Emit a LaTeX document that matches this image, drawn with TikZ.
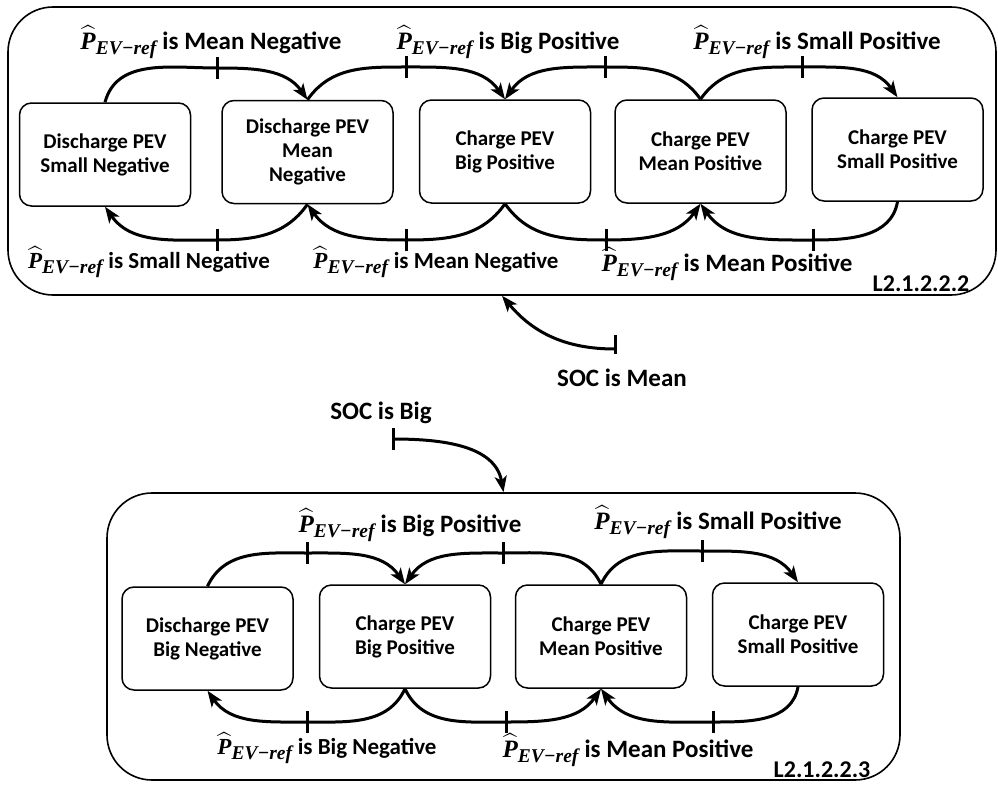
\documentclass[tikz,border=0pt]{standalone}
\usepackage{amsmath}
\usepackage{fontspec}
\setmainfont{Carlito}
\newfontfamily\sbi{Liberation Serif}
\usetikzlibrary{arrows.meta}
\newcommand{\Pev}{\(\widehat{\text{\sbi\bfseries\itshape P}}_{\text{\fontsize{19.5}{22}\selectfont\sbi\bfseries\itshape EV−ref}}\)}
\begin{document}
\begin{tikzpicture}[x=1pt,y=1pt,
  outer/.style={draw, line width=1.6pt, rounded corners=45pt, inner sep=0pt},
  st/.style={draw, line width=1.5pt, rounded corners=12pt, minimum width=171pt, minimum height=103pt, align=center, font=\fontsize{21}{24}\selectfont\bfseries, inner sep=0pt},
  arr/.style={line width=3pt, -{Stealth[length=16pt,width=12pt,inset=4pt]}},
  tk/.style={line width=3pt},
  lb/.style={font=\fontsize{25}{28}\selectfont\bfseries, inner sep=0pt},
  ls/.style={font=\fontsize{23}{26}\selectfont\bfseries, inner sep=0pt},
  nb/.style={font=\fontsize{24}{28}\selectfont\bfseries, inner sep=0pt},
]
\useasboundingbox (0,0) rectangle (998,-784);

% frames
\node[outer, minimum width=988pt, minimum height=288pt] (F1) at (502,-151) {};
\node[outer, minimum width=793pt, minimum height=287pt] (F2) at (503.5,-636.5) {};

% top states
\node[st] (A) at (105,-154.5) {Discharge PEV\\Small Negative};
\node[st] (B) at (307.5,-152) {Discharge PEV\\Mean\\Negative};
\node[st] (C) at (505,-151.5) {Charge PEV\\Big Positive};
\node[st] (D) at (700.5,-151.5) {Charge PEV\\Mean Positive};
\node[st] (E) at (897.5,-149.5) {Charge PEV\\Small Positive};

% bottom states
\node[st] (A2) at (207.5,-638.5) {Discharge PEV\\Big Negative};
\node[st] (B2) at (405,-636.5) {Charge PEV\\Big Positive};
\node[st] (C2) at (601,-636.5) {Charge PEV\\Mean Positive};
\node[st] (D2) at (798,-634.5) {Charge PEV\\Small Positive};

% tick coordinates
\coordinate (tAB) at (217,-68);
\coordinate (tBC) at (406,-67);
\coordinate (tDC) at (605,-67);
\coordinate (tDE) at (802,-67);
\coordinate (tBA) at (217,-240);
\coordinate (tCB) at (406,-240);
\coordinate (tCD) at (606,-240);
\coordinate (tED) at (813,-240);
\coordinate (uAB) at (307,-553);
\coordinate (uCB) at (503,-553);
\coordinate (uCD) at (702,-551);
\coordinate (uBA) at (307,-722);
\coordinate (uBC) at (506,-722);
\coordinate (uDC) at (713,-722);
\coordinate (sm) at (615,-349);
\coordinate (sb) at (393,-439);

% top diagram arcs
\draw[arr] (A.north) to[out=75,in=180] (tAB) to[out=0,in=125] (B.north);
\draw[arr] (B.north) to[out=55,in=180] (tBC) to[out=0,in=125] (C.north);
\draw[arr] (D.north) to[out=125,in=0] (tDC) to[out=180,in=55] (C.north);
\draw[arr] (D.north) to[out=55,in=180] (tDE) to[out=0,in=125] (E.north);
\draw[arr] (B.south) to[out=-125,in=0] (tBA) to[out=180,in=-55] (A.south);
\draw[arr] (C.south) to[out=-125,in=0] (tCB) to[out=180,in=-55] (B.south);
\draw[arr] (C.south) to[out=-55,in=180] (tCD) to[out=0,in=-125] (D.south);
\draw[arr] (E.south) to[out=-100,in=0] (tED) to[out=180,in=-55] (D.south);

% bottom diagram arcs
\draw[arr] (A2.north) to[out=65,in=180] (uAB) to[out=0,in=125] (B2.north);
\draw[arr] (C2.north) to[out=115,in=0] (uCB) to[out=180,in=55] (B2.north);
\draw[arr] (C2.north) to[out=65,in=180] (uCD) to[out=0,in=125] (D2.north);
\draw[arr] (B2.south) to[out=-115,in=0] (uBA) to[out=180,in=-55] (A2.south);
\draw[arr] (B2.south) to[out=-65,in=180] (uBC) to[out=0,in=-125] (C2.south);
\draw[arr] (D2.south) to[out=-100,in=0] (uDC) to[out=180,in=-55] (C2.south);

% ticks
\foreach \t in {tAB,tBC,tDC,tDE,tBA,tCB,tCD,tED,uAB,uCB,uCD,uBA,uBC,uDC,sb}
  \draw[tk] ([yshift=11pt]\t) -- ([yshift=-11pt]\t);
\draw[tk] ([yshift=14pt]sm) -- ([yshift=-5pt]sm);

% SOC arrows
\draw[arr] (sm) to[out=180,in=-50] (F1.south);
\draw[arr] (sb) to[out=0,in=100] (F2.north);
\node[lb] (socm) at (622,-378) {SOC is Mean};
\node[lb] (socb) at (381,-413) {SOC is Big};

% labels top diagram
\node[lb] (l1) at (211,-42) {\Pev{} is Mean Negative};
\node[lb] (l2) at (508,-42) {\Pev{} is Big Positive};
\node[lb] (l3) at (817,-42) {\Pev{} is Small Positive};
\node[ls] (l4) at (149,-262) {\Pev{} is Small Negative};
\node[ls] (l5) at (436,-262) {\Pev{} is Mean Negative};
\node[lb] (l6) at (727,-264) {\Pev{} is Mean Positive};
\node[nb] (n1) at (921,-284) {L2.1.2.2.2};

% labels bottom diagram
\node[lb] (m1) at (410,-525) {\Pev{} is Big Positive};
\node[lb] (m2) at (718,-522) {\Pev{} is Small Positive};
\node[ls] (m3) at (327,-748) {\Pev{} is Big Negative};
\node[lb] (m4) at (628,-750) {\Pev{} is Mean Positive};
\node[nb] (n2) at (822,-770) {L2.1.2.2.3};
\end{tikzpicture}
\end{document}
